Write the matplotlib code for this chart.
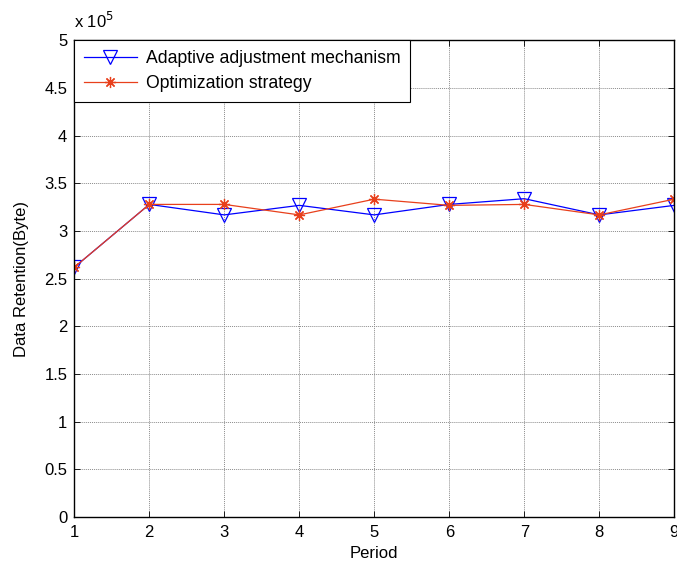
import matplotlib
matplotlib.use("Agg")
import matplotlib.pyplot as plt
from matplotlib.ticker import FuncFormatter

plt.rcParams['font.family'] = ['Liberation Sans', 'DejaVu Sans']

periods = [1, 2, 3, 4, 5, 6, 7, 8, 9]
adaptive = [2.62e5, 3.28e5, 3.17e5, 3.27e5, 3.17e5, 3.28e5, 3.34e5, 3.17e5, 3.27e5]
optimized = [2.62e5, 3.28e5, 3.28e5, 3.17e5, 3.335e5, 3.27e5, 3.28e5, 3.17e5, 3.335e5]
yticks = [0, 0.5e5, 1e5, 1.5e5, 2e5, 2.5e5, 3e5, 3.5e5, 4e5, 4.5e5, 5e5]

blue = '#0000ff'
red = '#e8401c'
asterisk = (8, 2, 0)  # + and x overlaid, like the MATLAB '*'

fig = plt.figure(figsize=(6.77, 5.68), dpi=100)
ax = fig.add_axes([0.1097, 0.0898, 0.8863, 0.8389])

ax.plot(periods, adaptive, color=blue, linewidth=0.9, marker='v', markersize=9.5,
        markerfacecolor='none', markeredgecolor=blue, markeredgewidth=0.9,
        label='Adaptive adjustment mechanism')
ax.plot(periods, optimized, color=red, linewidth=0.9, marker=asterisk, markersize=8,
        markerfacecolor='none', markeredgecolor=red, markeredgewidth=0.9,
        label='Optimization strategy')

ax.set_xlim(1, 9)
ax.set_ylim(0, 5e5)
ax.set_xticks(periods)
ax.set_yticks(yticks)
ax.yaxis.set_major_formatter(FuncFormatter(lambda v, p: f"{v / 1e5:g}"))
ax.grid(True, color='#8c8c8c', linestyle=(0, (1, 1)), linewidth=0.7)
ax.tick_params(direction='in', length=4, width=0.6, top=True, right=True,
               labelsize=12)
ax.tick_params(axis='x', pad=6)
ax.tick_params(axis='y', pad=5)
for s in ax.spines.values():
    s.set_linewidth(1.0)

ax.text(0.0, 1.02, r'x 10$^{5}$', transform=ax.transAxes, fontsize=12,
        ha='left', va='bottom')

ax.set_xlabel('Period', fontsize=12, labelpad=4)
ax.set_ylabel('Data Retention(Byte)', fontsize=12, labelpad=11)

leg = ax.legend(loc='upper left', borderaxespad=0, fontsize=12.7, fancybox=False,
                handlelength=3.0, handletextpad=0.5, numpoints=1, borderpad=0.55,
                labelspacing=0.45)
leg.get_frame().set_edgecolor('black')
leg.get_frame().set_linewidth(0.8)
leg.get_frame().set_alpha(1)

fig.savefig('out.png', dpi=100)
